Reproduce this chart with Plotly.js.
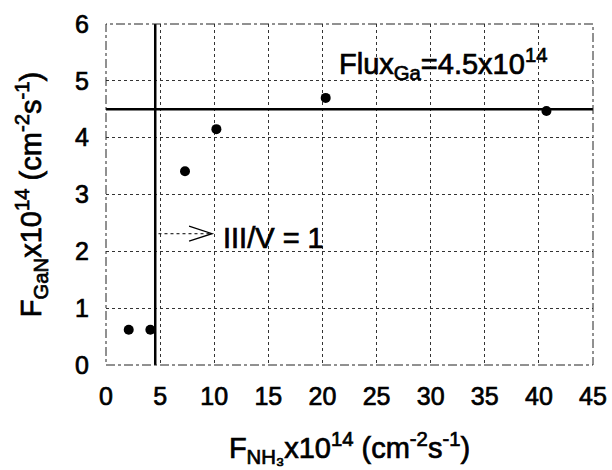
<!DOCTYPE html>
<html>
<head>
<meta charset="utf-8">
<script src="https://cdn.plot.ly/plotly-3.0.1.min.js"></script>
<style>
html,body{margin:0;padding:0;background:#fff;}
#chart{width:612px;height:470px;}
#chart text{stroke:#000;stroke-width:0.7px;}
</style>
</head>
<body>
<div id="chart"></div>
<script>
// Data
const fNH3 = [2.1, 4.1, 7.3, 10.2, 20.3, 40.7];
const fGaN = [0.62, 0.62, 3.41, 4.15, 4.70, 4.47];
const fluxGa = 4.5;          // Ga flux (horizontal line)
const stoichNH3 = 4.55;      // III/V = 1 position (vertical line)
const xRange = [0, 45];
const yRange = [0, 6];
const xTicks = [0, 5, 10, 15, 20, 25, 30, 35, 40, 45];
const yTicks = [0, 1, 2, 3, 4, 5, 6];

const font = "Liberation Sans, Arial, sans-serif";

const traces = [
  {x: xRange, y: [fluxGa, fluxGa], mode: 'lines', line: {color: '#000', width: 2.5}, hoverinfo: 'skip', showlegend: false},
  {x: [stoichNH3, stoichNH3], y: yRange, mode: 'lines', line: {color: '#000', width: 2.5}, hoverinfo: 'skip', showlegend: false},
  {x: fNH3, y: fGaN, mode: 'markers', marker: {color: '#000', size: 10}, showlegend: false}
];

const layout = {
  width: 612, height: 470,
  margin: {l: 106, r: 19, t: 24, b: 105},
  paper_bgcolor: '#fff', plot_bgcolor: '#fff',
  font: {family: font, color: '#000'},
  showlegend: false,
  xaxis: {
    range: xRange, tickvals: xTicks, ticktext: xTicks.map(String),
    showgrid: true, gridcolor: '#333', griddash: 'dot', gridwidth: 1,
    zeroline: false, showline: false, ticks: '',
    tickfont: {size: 25, family: font, color: '#000'},
    ticklabelstandoff: 14,
    title: {text: 'F<sub>NH₃</sub>x10<sup>14</sup> (cm<sup>-2</sup>s<sup>-1</sup>)', font: {size: 29, family: font, color: '#000'}, standoff: 28},
    automargin: false
  },
  yaxis: {
    range: yRange, tickvals: yTicks, ticktext: yTicks.map(String),
    showgrid: true, gridcolor: '#333', griddash: 'dot', gridwidth: 1,
    zeroline: false, showline: false, ticks: '',
    tickfont: {size: 25, family: font, color: '#000'},
    ticklabelstandoff: 16,
    title: {text: 'F<sub>GaN</sub>x10<sup>14</sup> (cm<sup>-2</sup>s<sup>-1</sup>)', font: {size: 29, family: font, color: '#000'}, standoff: 24},
    automargin: false
  },
  shapes: [
    {type: 'rect', xref: 'paper', yref: 'paper', x0: 0, x1: 1, y0: 0, y1: 1, line: {color: '#222', width: 1, dash: 'dashdot'}},
    {type: 'line', xref: 'x', yref: 'y', x0: stoichNH3 + 0.3, x1: 9.8, y0: 2.31, y1: 2.31, line: {color: '#000', width: 1, dash: 'dot'}},
    {type: 'path', xref: 'x', yref: 'y', xsizemode: 'pixel', ysizemode: 'pixel', xanchor: 9.8, yanchor: 2.31,
     path: 'M-23,-7.5 L0,0 L-23,7.5', line: {color: '#000', width: 1.3}}
  ],
  annotations: [
    {x: 31.1, y: 5.3, xref: 'x', yref: 'y', text: 'Flux<sub>Ga</sub>=4.5x10<sup>14</sup>', showarrow: false, font: {size: 29, family: font, color: '#000'}},
    {x: 15.5, y: 2.24, xref: 'x', yref: 'y', text: 'III/V = 1', showarrow: false, font: {size: 29, family: font, color: '#000'}}
  ]
};

Plotly.newPlot('chart', traces, layout, {staticPlot: true, displayModeBar: false});
</script>
</body>
</html>
